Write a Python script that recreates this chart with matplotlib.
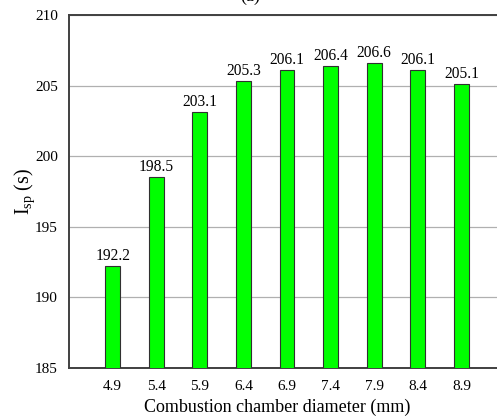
import numpy as np
import matplotlib.pyplot as plt

diameters = ['4.9', '5.4', '5.9', '6.4', '6.9', '7.4', '7.9', '8.4', '8.9']
isp = [192.2, 198.5, 203.1, 205.3, 206.1, 206.4, 206.6, 206.1, 205.1]

plt.rcParams['font.family'] = 'Liberation Serif'
plt.rcParams['mathtext.fontset'] = 'custom'
plt.rcParams['mathtext.rm'] = 'Liberation Serif'
plt.rcParams['mathtext.it'] = 'Liberation Serif:italic'

fig = plt.figure(figsize=(4.97, 4.18), dpi=100)
ax = fig.add_axes([69/497, 50/418, 436/497, 353/418])

x = np.arange(1, len(isp) + 1)
ax.bar(x, isp, width=0.335, color='#00ff00', edgecolor='#303030', linewidth=0.8, zorder=3)
for xi, v in zip(x, isp):
    ax.text(xi, v + 0.15, f'{v:.1f}', ha='center', va='bottom', fontsize=11.2, zorder=4)

ax.set_xlim(0, 10)
ax.set_ylim(185, 210)
ax.set_yticks(np.arange(185, 211, 5))
ax.set_xticks(x)
ax.set_xticklabels(diameters)
ax.tick_params(axis='both', length=0, labelsize=11)
ax.tick_params(axis='x', pad=9)
ax.tick_params(axis='y', pad=8)
ax.yaxis.grid(True, color='#b0b0b0', linewidth=0.9, zorder=0)

for s in ax.spines.values():
    s.set_color('#404040')
    s.set_linewidth(1.4)

ax.set_xlabel('Combustion chamber diameter (mm)', fontsize=13)
ax.xaxis.set_label_coords(0.478, -0.088)
ax.set_ylabel(r'I$_{\mathrm{sp}}$ (s)', fontsize=14.5)
ax.yaxis.set_label_coords(-0.073, 0.5)
ax.set_title('(a)', fontsize=13, pad=10, x=0.415)

fig.savefig('out.png', dpi=100)
